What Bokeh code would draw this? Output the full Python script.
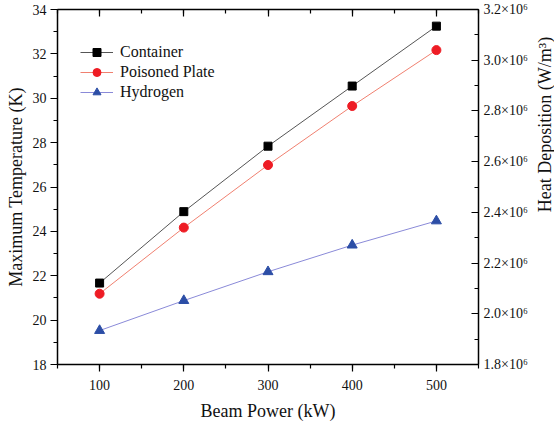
import math
from bokeh.plotting import figure
from bokeh.layouts import row
from bokeh.models import (LinearAxis, Range1d, SingleIntervalTicker, CustomJSTickFormatter,
                          Legend, LegendItem, Label)
from bokeh.embed import file_html
from bokeh.resources import INLINE

beam_power = [100, 200, 300, 400, 500]
container = [21.67, 24.89, 27.84, 30.55, 33.25]
poisoned_plate = [21.19, 24.17, 26.99, 29.65, 32.17]
hydrogen = [19.53, 20.88, 22.18, 23.38, 24.47]

FONT = "Liberation Serif"
TXT = "#111111"

p = figure(width=532, height=423, x_range=(50, 550), y_range=(18, 34),
           output_backend="svg", toolbar_location=None,
           min_border_left=57, min_border_right=54, min_border_top=9, min_border_bottom=58)
p.xgrid.visible = False
p.ygrid.visible = False
p.outline_line_color = None
p.extra_y_ranges = {"heat": Range1d(1.8e6, 3.2e6)}

def style(ax, tin, tout, font_size="14px"):
    ax.axis_line_color = "black"
    ax.axis_line_width = 1.5
    ax.major_tick_line_color = "black"
    ax.minor_tick_line_color = "black"
    ax.major_tick_line_width = 1.2
    ax.minor_tick_line_width = 1.2
    ax.major_tick_in = tin
    ax.major_tick_out = tout
    ax.minor_tick_in = int(tin * 4 / 7)
    ax.minor_tick_out = int(tout * 4 / 7)
    ax.major_label_text_font = FONT
    ax.major_label_text_font_size = font_size
    ax.major_label_text_color = TXT
    ax.axis_label_text_font = FONT
    ax.axis_label_text_font_style = "normal"
    ax.axis_label_text_font_size = "18px"
    ax.axis_label_text_color = TXT

# bottom axis
xa = p.xaxis[0]
xa.ticker = SingleIntervalTicker(interval=100, num_minor_ticks=2)
style(xa, 0, 7)
xa.axis_label = "Beam Power (kW)"
xa.major_label_standoff = 8
xa.axis_label_standoff = 8

# left axis
ya = p.yaxis[0]
ya.ticker = SingleIntervalTicker(interval=2, num_minor_ticks=2)
style(ya, 0, 7)
ya.axis_label = "Maximum Temperature (K)"
ya.major_label_standoff = 4
ya.axis_label_standoff = 4

# top axis (mirror, no labels)
top = LinearAxis(ticker=SingleIntervalTicker(interval=100, num_minor_ticks=2),
                 formatter=CustomJSTickFormatter(code="return '';"))
style(top, 7, 0)
top.major_label_standoff = 0
p.add_layout(top, "above")

# right axis
ra = LinearAxis(y_range_name="heat",
                ticker=SingleIntervalTicker(interval=0.2e6, num_minor_ticks=2),
                formatter=CustomJSTickFormatter(code="return (tick/1e6).toFixed(1) + '\u00d710\u2076';"))
style(ra, 7, 0)
ra.major_label_standoff = 5
p.add_layout(ra, "right")

l1 = p.line(beam_power, container, line_color="#555555", line_width=1)
m1 = p.scatter(beam_power, container, marker="square", size=8, fill_color="black", line_color="black")
l2 = p.line(beam_power, poisoned_plate, line_color="#f08070", line_width=1)
m2 = p.scatter(beam_power, poisoned_plate, marker="circle", size=9, fill_color="#ee1c24", line_color="#ee1c24")
l3 = p.line(beam_power, hydrogen, line_color="#8a8ad8", line_width=1)
m3 = p.scatter(beam_power, hydrogen, marker="triangle", size=10, fill_color="#2c4ea6", line_color="#2c4ea6")

legend = Legend(items=[
    LegendItem(label="Container", renderers=[l1, m1]),
    LegendItem(label="Poisoned Plate", renderers=[l2, m2]),
    LegendItem(label="Hydrogen", renderers=[l3, m3]),
], location=(23, 262))
legend.border_line_color = None
legend.background_fill_alpha = 0
legend.padding = 0
legend.spacing = 0
legend.margin = 0
legend.glyph_width = 33
legend.glyph_height = 20
legend.label_height = 20
legend.label_standoff = 7
legend.label_text_font = FONT
legend.label_text_font_size = "16px"
legend.label_text_color = TXT
p.add_layout(legend)

# narrow side strip holding the right axis title (reads bottom-to-top)
p2 = figure(width=22, height=423, x_range=(0, 1), y_range=(0, 1),
            output_backend="svg", toolbar_location=None,
            x_axis_location=None, y_axis_location=None,
            min_border=0, min_border_left=0, min_border_right=0,
            min_border_top=0, min_border_bottom=0)
p2.xgrid.visible = False
p2.ygrid.visible = False
p2.outline_line_color = None
right_title = Label(x=12, y=240, x_units="screen", y_units="screen",
                    text="Heat Deposition (W/m\u00b3)", angle=math.pi / 2,
                    text_align="center", text_baseline="middle",
                    text_font=FONT, text_font_size="18px", text_color=TXT)
p2.add_layout(right_title)

layout = row(p, p2, spacing=0)
open("out.html", "w").write(file_html(layout, INLINE))
